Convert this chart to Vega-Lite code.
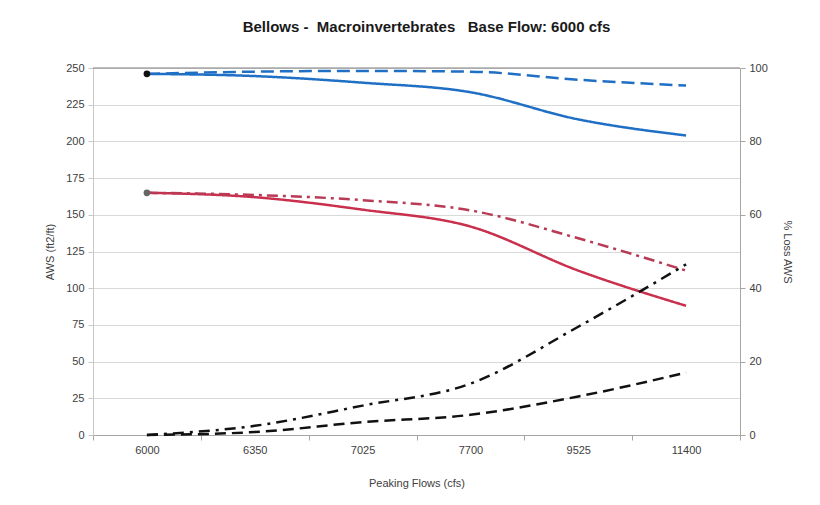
{
  "$schema": "https://vega.github.io/schema/vega-lite/v6.json",
  "width": 647,
  "height": 367,
  "autosize": "none",
  "padding": {"left": 93, "top": 68, "right": 80, "bottom": 70},
  "background": "white",
  "config": {
    "font": "Liberation Sans",
    "view": {"stroke": null},
    "axis": {
      "labelFont": "Liberation Sans",
      "titleFont": "Liberation Sans",
      "labelFontSize": 11,
      "titleFontSize": 11,
      "labelColor": "#404040",
      "titleColor": "#404040",
      "titleFontWeight": "normal"
    }
  },
  "title": {
    "text": "Bellows -\u00a0 Macroinvertebrates\u00a0\u00a0 Base Flow: 6000 cfs",
    "font": "Liberation Sans",
    "fontSize": 15,
    "fontWeight": "bold",
    "color": "#1a1a1a",
    "anchor": "middle",
    "dx": 10,
    "offset": 27
  },
  "datasets": {
    "aws": [
      {"flow": "6000", "series": "A", "value": 246},
      {"flow": "6350", "series": "A", "value": 244.5},
      {"flow": "7025", "series": "A", "value": 240},
      {"flow": "7700", "series": "A", "value": 233.5},
      {"flow": "9525", "series": "A", "value": 215},
      {"flow": "11400", "series": "A", "value": 204},
      {"flow": "6000", "series": "B", "value": 246},
      {"flow": "6350", "series": "B", "value": 247.5},
      {"flow": "7025", "series": "B", "value": 248},
      {"flow": "7700", "series": "B", "value": 247.5},
      {"flow": "9525", "series": "B", "value": 242},
      {"flow": "11400", "series": "B", "value": 238},
      {"flow": "6000", "series": "C", "value": 165},
      {"flow": "6350", "series": "C", "value": 162},
      {"flow": "7025", "series": "C", "value": 153.5},
      {"flow": "7700", "series": "C", "value": 142},
      {"flow": "9525", "series": "C", "value": 112},
      {"flow": "11400", "series": "C", "value": 88},
      {"flow": "6000", "series": "D", "value": 165},
      {"flow": "6350", "series": "D", "value": 163.5},
      {"flow": "7025", "series": "D", "value": 160},
      {"flow": "7700", "series": "D", "value": 153},
      {"flow": "9525", "series": "D", "value": 134},
      {"flow": "11400", "series": "D", "value": 112}
    ],
    "loss": [
      {"flow": "6000", "series": "E", "value": 0},
      {"flow": "6350", "series": "E", "value": 2.5},
      {"flow": "7025", "series": "E", "value": 8},
      {"flow": "7700", "series": "E", "value": 14},
      {"flow": "9525", "series": "E", "value": 29.5},
      {"flow": "11400", "series": "E", "value": 46.5},
      {"flow": "6000", "series": "F", "value": 0},
      {"flow": "6350", "series": "F", "value": 0.8},
      {"flow": "7025", "series": "F", "value": 3.5},
      {"flow": "7700", "series": "F", "value": 5.5},
      {"flow": "9525", "series": "F", "value": 10.5},
      {"flow": "11400", "series": "F", "value": 17}
    ]
  },
  "layer": [
    {
      "data": {"name": "aws"},
      "mark": {"type": "line", "strokeWidth": 2.5, "interpolate": "monotone"},
      "encoding": {
        "x": {
          "field": "flow", "type": "ordinal",
          "sort": ["6000", "6350", "7025", "7700", "9525", "11400"],
          "scale": {"type": "band", "paddingInner": 0, "paddingOuter": 0},
          "axis": {
            "title": "Peaking Flows (cfs)",
            "labelAngle": 0,
            "tickBand": "extent",
            "grid": false,
            "domainColor": "#a6a6a6",
            "tickColor": "#a6a6a6",
            "tickSize": 5,
            "labelPadding": 4,
            "titlePadding": 22
          }
        },
        "y": {
          "field": "value", "type": "quantitative",
          "scale": {"domain": [0, 250], "nice": false},
          "axis": {
            "title": "AWS (ft2/ft)",
            "values": [0, 25, 50, 75, 100, 125, 150, 175, 200, 225, 250],
            "labelOverlap": false,
            "grid": true,
            "gridColor": "#d9d9d9",
            "domainColor": "#c8c8c8",
            "tickColor": "#c8c8c8",
            "tickSize": 5,
            "labelPadding": 4,
            "titlePadding": 10,
            "titleColor": "#404040"
          }
        },
        "color": {
          "field": "series", "type": "nominal",
          "scale": {"domain": ["A", "B", "C", "D"], "range": ["#1f6fc5", "#1f6fc5", "#c9304e", "#b83a55"]},
          "legend": null
        },
        "strokeDash": {
          "field": "series", "type": "nominal",
          "scale": {"domain": ["A", "B", "C", "D"], "range": [[1, 0], [13, 6], [1, 0], [11, 5, 3, 5]]},
          "legend": null
        }
      }
    },
    {
      "data": {"name": "aws"},
      "transform": [{"filter": "datum.flow == '6000' && datum.series == 'A'"}],
      "mark": {"type": "rule", "color": "#7f7f7f", "strokeWidth": 1.2},
      "encoding": {
        "y": {"datum": 250, "type": "quantitative", "scale": {"domain": [0, 250], "nice": false}, "axis": null}
      }
    },
    {
      "data": {"name": "aws"},
      "transform": [{"filter": "datum.flow == '6000' && (datum.series == 'A' || datum.series == 'C')"}],
      "mark": {"type": "point", "filled": true, "size": 45, "opacity": 1},
      "encoding": {
        "x": {"field": "flow", "type": "ordinal", "sort": ["6000", "6350", "7025", "7700", "9525", "11400"]},
        "y": {"field": "value", "type": "quantitative", "scale": {"domain": [0, 250], "nice": false}, "axis": null},
        "color": {"field": "series", "type": "nominal", "scale": {"domain": ["A", "C"], "range": ["#111111", "#666666"]}, "legend": null}
      }
    },
    {
      "data": {"name": "loss"},
      "mark": {"type": "line", "strokeWidth": 2.5, "interpolate": "monotone", "color": "#111111"},
      "encoding": {
        "x": {"field": "flow", "type": "ordinal", "sort": ["6000", "6350", "7025", "7700", "9525", "11400"]},
        "y": {
          "field": "value", "type": "quantitative",
          "scale": {"domain": [0, 100], "nice": false},
          "axis": {
            "orient": "right",
            "title": "% Loss AWS",
            "values": [0, 20, 40, 60, 80, 100],
            "grid": false,
            "domainColor": "#a6a6a6",
            "tickColor": "#a6a6a6",
            "tickSize": 5,
            "labelPadding": 4,
            "titlePadding": 14
          }
        },
        "strokeDash": {
          "field": "series", "type": "nominal",
          "scale": {"domain": ["E", "F"], "range": [[11, 6, 3, 6], [11, 6]]},
          "legend": null
        }
      }
    }
  ],
  "resolve": {"scale": {"y": "independent", "strokeDash": "independent", "color": "independent"}}
}
